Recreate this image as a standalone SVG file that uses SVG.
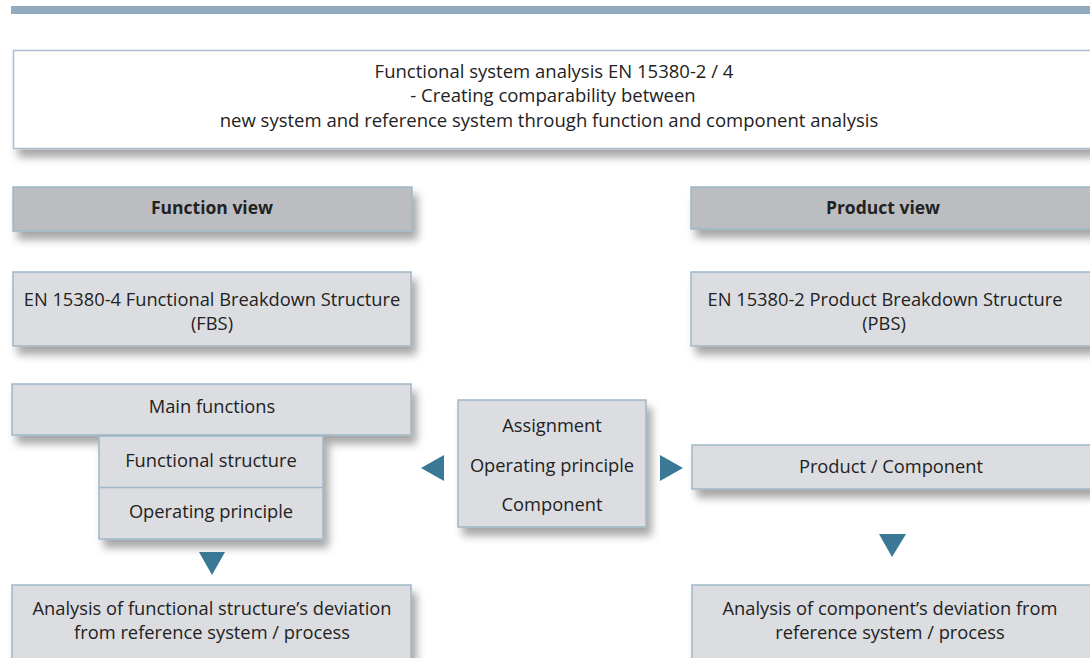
<svg xmlns="http://www.w3.org/2000/svg" width="1090" height="658" viewBox="0 0 1090 658">
<defs>
<filter id="sh" x="-10%" y="-20%" width="130%" height="160%">
<feDropShadow dx="5" dy="8" stdDeviation="4" flood-color="#000" flood-opacity="0.35"/>
</filter>
<style>
.t{font-family:"Open Sans","Noto Sans",sans-serif;font-size:18.3px;fill:#222;text-anchor:middle}
.b{font-weight:bold;font-size:17.5px}
.ti{font-family:"Open Sans","Noto Sans",sans-serif;font-size:18.5px;fill:#222;text-anchor:middle}
.box{fill:#dcdde0;stroke:#9fb6c8;stroke-width:1.5}
.hd{fill:#bcbdc0;stroke:#9fb6c8;stroke-width:1.5}
.wb{fill:#fff;stroke:#a9bfd1;stroke-width:1.5}
.ar{fill:#3b7896}
</style>
</defs>
<rect x="11" y="6" width="1079" height="8" fill="#93abbf"/>
<g id="title">
<rect class="wb" x="13.5" y="50.5" width="1090" height="98" filter="url(#sh)"/>
<text class="ti" x="554" y="78">Functional system analysis EN 15380-2 / 4</text>
<text class="ti" x="553" y="102">- Creating comparability between</text>
<text class="ti" x="549" y="127">new system and reference system through function and component analysis</text>
</g>
<g id="function-view">
<rect class="hd" x="13" y="187" width="399" height="44" filter="url(#sh)"/>
<text class="t b" x="212" y="214">Function view</text>
</g>
<g id="product-view">
<rect class="hd" x="691" y="187" width="410" height="42" filter="url(#sh)"/>
<text class="t b" x="883" y="214">Product view</text>
</g>
<g id="fbs">
<rect class="box" x="13" y="272" width="398" height="74" filter="url(#sh)"/>
<text class="t" x="212" y="306">EN 15380-4 Functional Breakdown Structure</text>
<text class="t" x="212" y="330">(FBS)</text>
</g>
<g id="pbs">
<rect class="box" x="691" y="272" width="410" height="74" filter="url(#sh)"/>
<text class="t" x="885" y="306">EN 15380-2 Product Breakdown Structure</text>
<text class="t" x="884" y="330">(PBS)</text>
</g>
<g id="main-functions">
<rect class="box" x="12" y="384" width="399" height="51" filter="url(#sh)"/>
<text class="t" x="212" y="413">Main functions</text>
</g>
<g id="sub-functions">
<rect class="box" x="99" y="436" width="224" height="103" filter="url(#sh)"/>
<line x1="99" y1="487.5" x2="323" y2="487.5" stroke="#9fb6c8" stroke-width="1.5"/>
<text class="t" x="211" y="467">Functional structure</text>
<text class="t" x="211" y="518">Operating principle</text>
</g>
<g id="center">
<rect class="box" x="458" y="400" width="188" height="127" filter="url(#sh)"/>
<text class="t" x="552" y="432">Assignment</text>
<text class="t" x="552" y="472">Operating principle</text>
<text class="t" x="552" y="511">Component</text>
</g>
<g id="product-component">
<rect class="box" x="692" y="445" width="410" height="44" filter="url(#sh)"/>
<text class="t" x="891" y="473">Product / Component</text>
</g>
<g id="analysis-left">
<rect class="box" x="12" y="585" width="399" height="90" filter="url(#sh)"/>
<text class="t" x="212" y="615">Analysis of functional structure’s deviation</text>
<text class="t" x="212" y="639">from reference system / process</text>
</g>
<g id="analysis-right">
<rect class="box" x="692" y="585" width="410" height="90" filter="url(#sh)"/>
<text class="t" x="890" y="615">Analysis of component’s deviation from</text>
<text class="t" x="890" y="639">reference system / process</text>
</g>
<g id="connectors">
<polygon class="ar" points="421,468 444,455 444,481"/>
<polygon class="ar" points="683,468 660,455 660,481"/>
<polygon class="ar" points="199,552 225,552 212,575"/>
<polygon class="ar" points="879,534 906,534 892,557"/>
</g>
</svg>
